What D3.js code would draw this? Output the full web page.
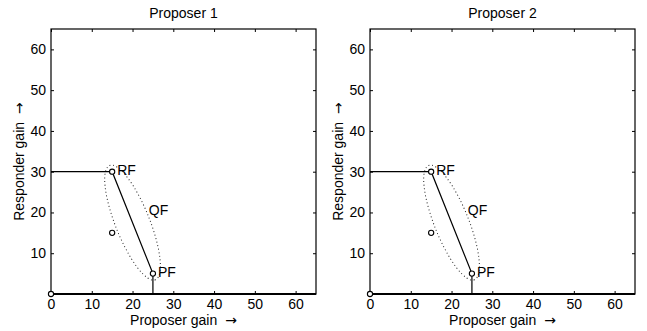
<!DOCTYPE html>
<html><head><meta charset="utf-8">
<script src="https://cdn.jsdelivr.net/npm/d3@7"></script>
<style>
body{margin:0;background:#fff;}
text{font-family:"Liberation Sans",Arial,Helvetica,sans-serif;fill:#000;}
</style></head>
<body><svg id="c" width="647" height="331"></svg>
<script>
const panels = ["Proposer 1", "Proposer 2"];
const xTicks = [0, 10, 20, 30, 40, 50, 60];
const yTicks = [10, 20, 30, 40, 50, 60];
const domain = [0, 65];
// polyline: disagreement (0,30)->RF->PF->(25,0)
const frontierX = [0, 15, 25, 25];
const frontierY = [30, 30, 5, 0];
// marked points
const pointX = [0, 15, 25, 15];
const pointY = [0, 30, 5, 15];
// labels
const labelText = ["RF", "QF", "PF"];
const labelX = [15, 24, 25];
const labelY = [30, 20, 5];
const labelOffset = [5, 0, 5];
// dotted ellipse: centre, semi-axes (data units), oriented RF->PF
const ellipseCenter = [20, 17.5];
const ellipseAxes = [15.1, 4.2];

const svg = d3.select("#c");
const lefts = [51, 370];
const topY = 29, size = 265;

function axisLabel(sel, txt) {
  sel.append("tspan").text(txt);
  sel.append("tspan").attr("dx", 8).style("font-family", '"DejaVu Sans"').text("\u2192");
}

panels.forEach((title, i) => {
  const x = d3.scaleLinear().domain(domain).range([lefts[i], lefts[i] + size]);
  const y = d3.scaleLinear().domain(domain).range([topY + size, topY]);
  const g = svg.append("g");

  // title
  g.append("text").attr("x", lefts[i] + size / 2).attr("y", 18)
    .attr("text-anchor", "middle").attr("font-size", 14).text(title);

  // axes
  const xb = d3.axisBottom(x).tickValues(xTicks).tickSizeInner(-3).tickSizeOuter(0).tickPadding(5);
  const xt = d3.axisTop(x).tickValues(xTicks).tickSizeInner(-3).tickSizeOuter(0).tickFormat("");
  const yl = d3.axisLeft(y).tickValues(yTicks).tickSizeInner(-3).tickSizeOuter(0).tickPadding(5);
  const yr = d3.axisRight(y).tickValues(yTicks).tickSizeInner(-3).tickSizeOuter(0).tickFormat("");
  const axes = [
    g.append("g").attr("transform", `translate(0,${topY + size})`).call(xb),
    g.append("g").attr("transform", `translate(0,${topY})`).call(xt),
    g.append("g").attr("transform", `translate(${lefts[i]},0)`).call(yl),
    g.append("g").attr("transform", `translate(${lefts[i] + size},0)`).call(yr)
  ];
  axes.forEach(a => {
    a.select(".domain").remove();
    a.selectAll(".tick line").attr("stroke", "#000").attr("stroke-width", 1);
    a.selectAll(".tick text").attr("font-size", 14).attr("fill", "#000")
      .style("font-family", '"Liberation Sans",Arial,Helvetica,sans-serif');
  });
  // box
  g.append("rect").attr("x", lefts[i]).attr("y", topY).attr("width", size).attr("height", size)
    .attr("fill", "none").attr("stroke", "#000").attr("stroke-width", 1.2);
  g.append("line").attr("x1", lefts[i]).attr("x2", lefts[i] + size)
    .attr("y1", topY + size).attr("y2", topY + size).attr("stroke", "#000").attr("stroke-width", 2);

  // ellipse
  const p1 = [x(frontierX[1]), y(frontierY[1])], p2 = [x(frontierX[2]), y(frontierY[2])];
  const ang = Math.atan2(p2[1] - p1[1], p2[0] - p1[0]) * 180 / Math.PI;
  const cx = x(ellipseCenter[0]), cy = y(ellipseCenter[1]);
  g.append("ellipse").attr("cx", 0).attr("cy", 0)
    .attr("rx", x(ellipseAxes[0]) - x(0)).attr("ry", x(ellipseAxes[1]) - x(0))
    .attr("transform", `translate(${cx},${cy}) rotate(${ang})`)
    .attr("fill", "none").attr("stroke", "#222").attr("stroke-width", 1)
    .attr("stroke-dasharray", "1,2.6");

  // frontier line
  const line = d3.line().x(d => x(d[0])).y(d => y(d[1]));
  g.append("path").datum(frontierX.map((v, k) => [v, frontierY[k]]))
    .attr("d", line).attr("fill", "none").attr("stroke", "#000").attr("stroke-width", 1.2);

  // points
  g.selectAll("circle.pt").data(pointX.map((v, k) => [v, pointY[k]])).enter()
    .append("circle").attr("class", "pt")
    .attr("cx", d => x(d[0])).attr("cy", d => y(d[1])).attr("r", 2.6)
    .attr("fill", "#fff").attr("stroke", "#000").attr("stroke-width", 1.1);

  // labels
  labelText.forEach((t, k) => {
    g.append("text").attr("x", x(labelX[k]) + labelOffset[k]).attr("y", y(labelY[k]) + 3)
      .attr("font-size", 14).text(t);
  });

  // axis labels
  g.append("text").attr("x", lefts[i] + size / 2).attr("y", 325)
    .attr("text-anchor", "middle").attr("font-size", 14)
    .call(axisLabel, "Proposer gain");
  g.append("text").attr("transform", `translate(${lefts[i] - 27},${topY + size / 2}) rotate(-90)`)
    .attr("text-anchor", "middle").attr("font-size", 14)
    .call(axisLabel, "Responder gain");
});
</script></body></html>
